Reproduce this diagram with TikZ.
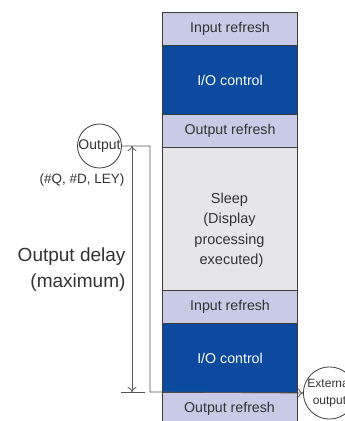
\documentclass[tikz,border=0pt]{standalone}
\usepackage{fontspec}
\setmainfont{Liberation Sans}
\usetikzlibrary{arrows.meta}
\definecolor{lav}{HTML}{C8CAE6}
\definecolor{iob}{HTML}{0B4A9E}
\definecolor{slp}{HTML}{E6E6E8}
\definecolor{bord}{HTML}{3C3C3C}
\definecolor{txt}{HTML}{333333}
\definecolor{conn}{HTML}{555555}
\tikzset{
  blk/.style={draw=bord, line width=1.1pt, minimum width=135pt, inner sep=0pt, anchor=north west, font=\fontsize{14.2}{16}\selectfont, text=txt},
  refr/.style={blk, fill=lav},
  ioc/.style={blk, fill=iob, text=white},
  sleepbox/.style={blk, fill=slp},
  circ/.style={circle, draw=bord, line width=0.8pt, inner sep=0pt, text=txt},
  con/.style={draw=conn, line width=0.8pt},
  tip/.style={-{To[length=5pt,width=9pt]}}
}
\begin{document}
\begin{tikzpicture}[x=1pt,y=1pt]
\useasboundingbox (0,0) rectangle (345,421);
% column (y = 421 - py)
\node[refr, minimum height=33pt] (ir1) at (162,409) {Input refresh};
\node[ioc, minimum height=69pt] (io1) at (162,376) {I/O control};
\node[refr, minimum height=33pt] (or1) at (162,307) {Output refresh};
\node[sleepbox, minimum height=143pt] (sl) at (162,274) {};
\node[align=center, font=\fontsize{14.5}{20.5}\selectfont, text=txt] (slt) at (229.5,191) {Sleep\\(Display\\processing\\\ executed)};
\node[refr, minimum height=33pt] (ir2) at (162,131) {Input refresh};
\node[ioc, minimum height=69pt] (io2) at (162,98) {I/O control};
\node[refr, minimum height=33pt] (or2) at (162,29) {};
\node[font=\fontsize{14.2}{16}\selectfont, text=txt] (or2t) at (229.5,12) {Output refresh};
% output circle
\node[circ, minimum size=44pt, font=\fontsize{14}{16}\selectfont] (out) at (99.5,275) {Output};
\node[font=\fontsize{13.5}{15}\selectfont, text=txt] (sig) at (82,241) {(\#Q, \#D, LEY)};
\node[font=\fontsize{19}{26}\selectfont, text=txt, align=right, anchor=east] (dly) at (129,151) {Output delay\\(maximum)};
% external output circle
\node[circ, minimum size=41pt, align=center, font=\fontsize{12}{17}\selectfont] (ext) at (329.5,28) {External\\output};
% connectors
\coordinate (c1) at (150,275);
\coordinate (c2) at (150,29);
\draw[con, tip] (out.east) -- (c1) -- (c2) -- (ext.west);
\coordinate (d1) at (132,275);
\coordinate (d2) at (132,29);
\draw[con, {To[length=5pt,width=9pt]}-{To[length=5pt,width=9pt]}] (d1) -- (d2);
\coordinate (t1) at (121,29);
\coordinate (t2) at (145,29);
\draw[con] (t1) -- (t2);
\end{tikzpicture}
\end{document}
